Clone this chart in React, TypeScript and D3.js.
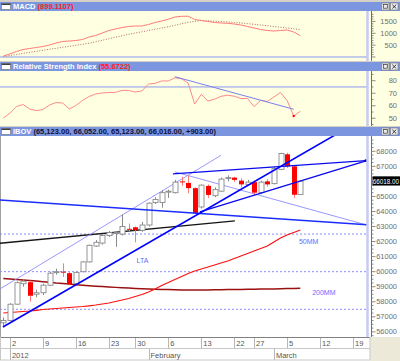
import React from "react";
import * as d3 from "d3";

// Sessions shown on the chart (first is the last 2011 session, the rest runs into the empty right side)
const sessions = [
  "2011-12-29",
  "2012-01-02", "2012-01-03", "2012-01-04", "2012-01-05", "2012-01-06",
  "2012-01-09", "2012-01-10", "2012-01-11", "2012-01-12", "2012-01-13",
  "2012-01-16", "2012-01-17", "2012-01-18", "2012-01-19", "2012-01-20",
  "2012-01-23", "2012-01-24", "2012-01-26", "2012-01-27",
  "2012-01-30", "2012-01-31", "2012-02-01", "2012-02-02", "2012-02-03",
  "2012-02-06", "2012-02-07", "2012-02-08", "2012-02-09", "2012-02-10",
  "2012-02-13", "2012-02-14", "2012-02-15", "2012-02-16", "2012-02-17",
  "2012-02-22", "2012-02-23", "2012-02-24",
  "2012-02-27", "2012-02-28", "2012-02-29", "2012-03-01", "2012-03-02",
  "2012-03-05", "2012-03-06", "2012-03-07", "2012-03-08", "2012-03-09",
  "2012-03-12", "2012-03-13", "2012-03-14", "2012-03-15", "2012-03-16",
  "2012-03-19", "2012-03-20", "2012-03-21", "2012-03-22", "2012-03-23",
];

// IBOV candles (one per session, from 2011-12-29 to 2012-03-07)
const opens = [56600, 56760, 57840, 59200, 59300, 58500, 58600, 59100, 59950, 60000, 59900, 59200, 60000, 60650, 61700, 61900, 62400, 62550, 62500, 62850, 62950, 62750, 63100, 64600, 64600, 65300, 65250, 66000, 65900, 65550, 64300, 65700, 65050, 65350, 66200, 66250, 66050, 65800, 65950, 65250, 66000, 65850, 66800, 67800, 67000, 65123];
const highs = [56950, 57900, 59350, 59500, 59400, 58800, 59200, 60000, 60200, 60550, 60000, 60000, 60700, 61800, 62100, 62500, 62700, 62700, 63800, 63200, 63000, 63300, 64600, 64950, 65400, 65450, 66100, 66300, 66400, 65600, 65800, 65800, 65600, 66250, 66400, 66300, 66200, 66100, 66050, 66050, 66150, 66950, 67900, 67900, 67050, 66052];
const lows = [56400, 56700, 57800, 59000, 58000, 58300, 58450, 59050, 59800, 59650, 59100, 59100, 59950, 60600, 61650, 61800, 62300, 61650, 62400, 62700, 61950, 62650, 63000, 64500, 64250, 64900, 65200, 65700, 65200, 63850, 64200, 64900, 64950, 65300, 66000, 65950, 65600, 65700, 65100, 65150, 65650, 65800, 66750, 66900, 64900, 65123];
const closes = [56754, 57836, 59265, 59365, 58400, 58600, 59100, 59900, 60000, 59950, 59150, 59950, 60650, 61750, 61950, 62400, 62600, 62600, 63000, 62800, 62750, 63100, 64550, 64800, 65250, 65350, 65950, 65950, 65550, 63900, 65750, 65100, 65450, 66150, 66250, 66100, 65800, 65950, 65250, 65950, 65800, 66850, 67850, 67000, 65113, 66016];

const ma50 = [57254, 57287, 57320, 57353, 57386, 57433, 57486, 57520, 57553, 57586, 57619, 57652, 57686, 57732, 57785, 57852, 57918, 58018, 58118, 58218, 58351, 58484, 58650, 58850, 59082, 59282, 59481, 59681, 59880, 60047, 60180, 60313, 60446, 60579, 60712, 60878, 61044, 61210, 61377, 61543, 61709, 61975, 62241, 62441, 62607, 62773];
const ma200 = [59548, 59515, 59481, 59448, 59415, 59382, 59335, 59295, 59249, 59215, 59182, 59136, 59102, 59069, 59036, 59009, 58983, 58956, 58929, 58909, 58889, 58870, 58850, 58836, 58823, 58810, 58796, 58783, 58783, 58783, 58783, 58783, 58796, 58803, 58810, 58816, 58823, 58830, 58836, 58843, 58850, 58856, 58863, 58876, 58889, 58896];

const macd = [42, 127, 232, 316, 359, 401, 443, 506, 591, 654, 675, 696, 738, 844, 907, 1013, 1118, 1181, 1245, 1287, 1308, 1308, 1371, 1456, 1519, 1591, 1688, 1717, 1722, 1582, 1540, 1498, 1456, 1435, 1422, 1392, 1350, 1287, 1224, 1160, 1118, 1097, 1118, 1139, 1055, 899];
const macdSignal = [21, 63, 105, 156, 198, 241, 283, 325, 367, 409, 451, 494, 536, 582, 641, 705, 772, 835, 895, 958, 1013, 1063, 1118, 1169, 1224, 1274, 1338, 1401, 1464, 1506, 1536, 1527, 1511, 1494, 1477, 1456, 1435, 1409, 1380, 1350, 1321, 1287, 1253, 1224, 1194, 1148];

const rsi = [50.2, 54.0, 59.4, 61.0, 57.4, 56.1, 57.0, 60.6, 62.6, 62.2, 57.4, 60.2, 64.2, 67.4, 69.4, 70.2, 70.6, 70.7, 72.3, 72.2, 71.0, 71.8, 77.4, 77.9, 79.8, 79.8, 82.3, 81.5, 78.2, 61.4, 69.1, 63.8, 65.2, 67.6, 68.4, 67.6, 65.8, 65.8, 59.3, 64.4, 63.4, 67.0, 70.6, 64.2, 51.8, 55.67];

// hand-drawn trend lines: [session index, price]
const ltaLine = [[-0.06, 56322], [51, 69271]];
const resistLine = [[-0.52, 64768], [55.55, 63106]];
const wedgeTop = [[25.7, 66497], [54.94, 67382]];
const wedgeBottom = [[29.79, 63970], [54.94, 67362]];
const thinDown = [[26, 66630], [55.55, 63039]];
const channelTop = [[-0.52, 58850], [32.97, 67727]];
const longTrend = [[-0.52, 61889], [35.09, 63372]];
const rsiTrend = [[26, 83.2], [44, 57.2]];

const priceLevels = [57500, 60000, 62500];
const priceTicks = [56000, 57000, 58000, 59000, 60000, 61000, 62000, 63000, 64000, 65000, 67000, 68000];
const macdTicks = [500, 1000, 1500];
const rsiTicks = [50, 60, 70, 80];
const rsiLevel = 75;
const lastPrice = "66018.00";

const FONT = "'Liberation Sans', Arial, sans-serif";
const BAR = "#7b96de";
const PANEL = "#ffffe1";
const LAV = "#c6caf6";
const months = ["Jan", "February", "March"];

function TitleBar({ y, name, value, valueColor }: { y: number; name: string; value: string; valueColor: string }) {
  return (
    <g>
      <rect x={0} y={y} width={400} height={9} fill={BAR} />
      <rect x={1.5} y={y + 1.5} width={9} height={6} fill="#fff" stroke="#7a7a7a" strokeWidth={0.7} />
      <rect x={1.5} y={y + 1.5} width={9} height={1.5} fill="#404040" />
      <text x={13} y={y + 7.4} fontSize={7.5} fontWeight="bold" fontFamily={FONT}>
        <tspan fill="#fff">{name} </tspan>
        <tspan fill={valueColor}>{value}</tspan>
      </text>
      <rect x={381.5} y={y + 1} width={7.5} height={7} fill="#ececec" stroke="#808080" strokeWidth={0.7} />
      <rect x={383.3} y={y + 2.6} width={4} height={3.6} fill="none" stroke="#333" strokeWidth={0.7} />
      <rect x={390.5} y={y + 1} width={7.5} height={7} fill="#ececec" stroke="#808080" strokeWidth={0.7} />
      <path d={`M392.3,${y + 2.7}L396.2,${y + 6.5}M396.2,${y + 2.7}L392.3,${y + 6.5}`} stroke="#222" strokeWidth={0.9} />
    </g>
  );
}

export default function App() {
  const x = d3.scaleLinear().domain([-0.5, 55.5]).range([0, 369.6]);
  const yM = d3.scaleLinear().domain([-169, 1941]).range([61, 11]);
  const yR = d3.scaleLinear().domain([43.85, 87.74]).range([126, 71]);
  const yP = d3.scaleLinear().domain([55658, 69016]).range([337, 136]);

  const series = (ys: d3.ScaleLinear<number, number>) =>
    d3.line<number>().x((_, i) => x(i)).y((d) => ys(d));
  const seg = (pts: number[][], ys: d3.ScaleLinear<number, number>) =>
    d3.line<number[]>().x((p) => x(p[0])).y((p) => ys(p[1]))(pts) || "";

  const parse = (s: string) => new Date(s + "T00:00:00Z");
  const weekTicks = sessions
    .map((s, i) => ({ i, d: parse(s) }))
    .filter(({ i, d }) => i > 0 && d.getUTCDay() < parse(sessions[i - 1]).getUTCDay());
  const monthTicks = sessions
    .map((s, i) => ({ i, d: parse(s) }))
    .filter(({ i, d }) => i > 0 && d.getUTCMonth() !== parse(sessions[i - 1]).getUTCMonth());

  const axisX = 371.5;
  const labelX = 397;

  return (
    <svg width={400} height={361} style={{ position: "absolute", left: 0, top: 0, display: "block" }} fontFamily={FONT}>
      <defs>
        <clipPath id="mainClip"><rect x={0} y={136} width={367} height={201} /></clipPath>
        <clipPath id="macdClip"><rect x={0} y={11} width={367} height={50} /></clipPath>
        <clipPath id="rsiClip"><rect x={0} y={71} width={367} height={55} /></clipPath>
      </defs>
      <rect x={0} y={0} width={400} height={361} fill="#d4d0c8" />

      {/* MACD panel */}
      <TitleBar y={2} name="MACD" value="(899.1107)" valueColor="#ff1a1a" />
      <rect x={0} y={11} width={400} height={50} fill={PANEL} />
      <g clipPath="url(#macdClip)">
        <line x1={0} x2={367} y1={yM(0)} y2={yM(0)} stroke="#8898ee" strokeWidth={1} />
        <path d={series(yM)(macdSignal) || ""} fill="none" stroke="#b06a6a" strokeWidth={1} strokeDasharray="1 1.6" />
        <path d={series(yM)(macd) || ""} fill="none" stroke="#ff7a7a" strokeWidth={1} />
      </g>
      <line x1={367.5} x2={367.5} y1={11} y2={61} stroke={LAV} strokeWidth={2.5} />
      <line x1={axisX} x2={axisX} y1={11} y2={61} stroke="#707070" />
      {d3.range(0, 1900, 100).map((v) => (
        <line key={v} x1={axisX} x2={axisX + (v % 500 === 0 ? 4 : 2)} y1={yM(v)} y2={yM(v)} stroke="#707070" strokeWidth={0.8} />
      ))}
      {macdTicks.map((v) => (
        <text key={v} x={labelX} y={yM(v) + 2.6} fontSize={7.5} fill="#707070" textAnchor="end">{String(v)}</text>
      ))}

      {/* RSI panel */}
      <TitleBar y={62} name="Relative Strength Index" value="(55.6722)" valueColor="#ff1a1a" />
      <rect x={0} y={71} width={400} height={55} fill={PANEL} />
      <g clipPath="url(#rsiClip)">
        <line x1={0} x2={367} y1={yR(rsiLevel)} y2={yR(rsiLevel)} stroke="#8898ee" strokeWidth={1} />
        <path d={series(yR)(rsi) || ""} fill="none" stroke="#ff8a8a" strokeWidth={1} />
        <path d={seg(rsiTrend, yR)} fill="none" stroke="#7a80f0" strokeWidth={1} />
        <circle cx={x(44)} cy={yR(rsi[44])} r={1.2} fill="#ff0000" />
      </g>
      <line x1={367.5} x2={367.5} y1={71} y2={126} stroke={LAV} strokeWidth={2.5} />
      <line x1={axisX} x2={axisX} y1={71} y2={126} stroke="#707070" />
      {d3.range(45, 90, 5).map((v) => (
        <line key={v} x1={axisX} x2={axisX + (v % 10 === 0 ? 4 : 2)} y1={yR(v)} y2={yR(v)} stroke="#707070" strokeWidth={0.8} />
      ))}
      {rsiTicks.map((v) => (
        <text key={v} x={labelX} y={yR(v) + 2.6} fontSize={7.5} fill="#707070" textAnchor="end">{v}</text>
      ))}

      {/* IBOV panel */}
      <TitleBar y={127} name="IBOV" value="(65,123.00, 66,052.00, 65,123.00, 66,016.00, +903.00)" valueColor="#10103a" />
      <rect x={0} y={136} width={400} height={201} fill="#fff" />
      <line x1={0.5} x2={0.5} y1={136} y2={337} stroke="#a0a0a0" />
      <g clipPath="url(#mainClip)">
        {priceLevels.map((v) => (
          <line key={v} x1={0} x2={367} y1={yP(v)} y2={yP(v)} stroke="#8e8ef4" strokeWidth={1} strokeDasharray="2 2" />
        ))}
        <path d={series(yP)(ma200) || ""} fill="none" stroke="#9a1010" strokeWidth={1.5} />
        <path d={series(yP)(ma50) || ""} fill="none" stroke="#ff1010" strokeWidth={1.2} />
        <path d={seg(longTrend, yP)} fill="none" stroke="#151515" strokeWidth={1.3} />
        <path d={seg(channelTop, yP)} fill="none" stroke="#8c8cff" strokeWidth={0.9} />
        <path d={seg(thinDown, yP)} fill="none" stroke="#8c8cff" strokeWidth={0.9} />
        {opens.map((o, i) => {
          const c = closes[i];
          const up = c >= o;
          const cx = Math.round(x(i)) + 0.5;
          const top = yP(Math.max(o, c));
          const h = Math.max(1, yP(Math.min(o, c)) - top);
          return (
            <g key={i}>
              <line x1={cx} x2={cx} y1={yP(highs[i])} y2={yP(lows[i])} stroke={up ? "#8a8a8a" : "#ff7a7a"} strokeWidth={1} />
              <rect x={cx - 2.5} y={top} width={5} height={h} fill={up ? "#fff" : "#ff0000"} stroke={up ? "#8a8a8a" : "none"} strokeWidth={0.9} />
            </g>
          );
        })}
        <path d={seg(resistLine, yP)} fill="none" stroke="#1a2cff" strokeWidth={1.5} />
        <path d={seg(wedgeTop, yP)} fill="none" stroke="#0a0af0" strokeWidth={1.4} />
        <path d={seg(wedgeBottom, yP)} fill="none" stroke="#0a0af0" strokeWidth={1.4} />
        <path d={seg(ltaLine, yP)} fill="none" stroke="#0000ff" strokeWidth={1.6} />
        <rect x={x(wedgeTop[1][0]) - 1.2} y={yP(wedgeTop[1][1]) - 1.2} width={2.4} height={2.4} fill="#000080" />
      </g>
      <text x={x(20.2)} y={yP(60578)} fontSize={7} fill="#6a6aff">LTA</text>
      <text x={x(44.8)} y={yP(61809)} fontSize={7} fill="#6a6aff">50MM</text>
      <text x={x(46.8)} y={yP(58417)} fontSize={7} fill="#6a6aff">200MM</text>
      <line x1={367.5} x2={367.5} y1={136} y2={337} stroke={LAV} strokeWidth={2.5} />
      <line x1={axisX} x2={axisX} y1={136} y2={337} stroke="#707070" />
      {d3.range(55750, 69000, 250).map((v) => (
        <line key={v} x1={axisX} x2={axisX + (v % 1000 === 0 ? 4 : 2)} y1={yP(v)} y2={yP(v)} stroke="#707070" strokeWidth={0.8} />
      ))}
      {priceTicks.map((v) => (
        <text key={v} x={labelX} y={yP(v) + 2.6} fontSize={7.5} fill="#707070" textAnchor="end">{v}</text>
      ))}
      <rect x={372.5} y={yP(66016) - 4.8} width={27.5} height={9.2} fill="#000" />
      <text x={372.8} y={yP(66016) + 2.4} fontSize={6.3} fill="#fff">{lastPrice}</text>

      {/* date axis */}
      <rect x={0} y={337} width={370} height={24} fill="#fff" />
      <rect x={370} y={337} width={30} height={24} fill="#ece9d8" />
      <line x1={0} x2={370} y1={337.5} y2={337.5} stroke="#808080" />
      <line x1={0} x2={370} y1={348.5} y2={348.5} stroke="#c8c8c8" />
      <line x1={0} x2={370} y1={360} y2={360} stroke="#c8c8c8" />
      <line x1={370} x2={370} y1={337} y2={360} stroke="#c8c8c8" />
      <line x1={0.5} x2={0.5} y1={337} y2={360} stroke="#c8c8c8" />
      {weekTicks.map(({ i, d }) => (
        <g key={i}>
          <line x1={Math.round(x(i)) + 0.5} x2={Math.round(x(i)) + 0.5} y1={338} y2={348.5} stroke="#b8b8b8" />
          <text x={x(i) + 2} y={346.3} fontSize={7.5} fill="#555">{d.getUTCDate()}</text>
        </g>
      ))}
      {monthTicks.map(({ i, d }) => (
        <g key={i}>
          <line x1={Math.round(x(i)) + 0.5} x2={Math.round(x(i)) + 0.5} y1={348.5} y2={360} stroke="#b8b8b8" />
          <text x={x(i) + 2} y={357.5} fontSize={7.5} fill="#555">
            {d.getUTCMonth() === 0 ? d.getUTCFullYear() : months[d.getUTCMonth()]}
          </text>
        </g>
      ))}
    </svg>
  );
}
